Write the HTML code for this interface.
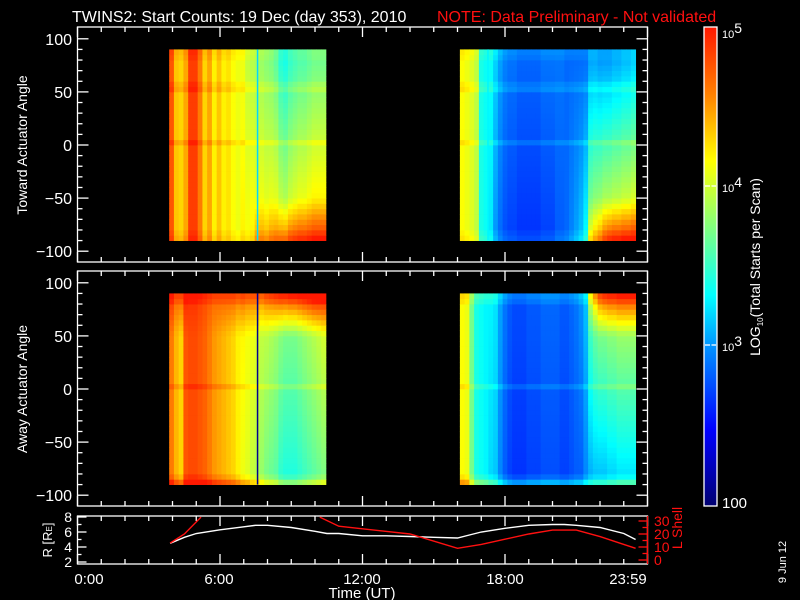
<!DOCTYPE html>
<html><head><meta charset="utf-8">
<style>
html,body{margin:0;padding:0;background:#000;}
svg{display:block;}
text{font-family:"Liberation Sans",sans-serif;}
</style></head>
<body>
<svg id="chart" width="800" height="600" viewBox="0 0 800 600" xmlns="http://www.w3.org/2000/svg">
<rect x="0" y="0" width="800" height="600" fill="#000"/>
<text x="72" y="22" font-size="16" fill="#fff">TWINS2: Start Counts: 19 Dec (day 353), 2010</text>
<text x="437" y="22" font-size="16" fill="#ff1010">NOTE: Data Preliminary - Not validated</text>
<g id="heat"></g>
<g id="axes"></g>
<text transform="translate(27,145) rotate(-90)" text-anchor="middle" font-size="14" fill="#fff">Toward Actuator Angle</text>
<text transform="translate(27,389) rotate(-90)" text-anchor="middle" font-size="14" fill="#fff">Away Actuator Angle</text>
<text transform="translate(52,540) rotate(-90)" text-anchor="middle" font-size="13" fill="#fff">R [R<tspan font-size="8">E</tspan>]</text>
<text transform="translate(682,528) rotate(-90)" text-anchor="middle" font-size="14" fill="#ff1010">L Shell</text>
<text x="362" y="598" text-anchor="middle" font-size="15" fill="#fff">Time (UT)</text>
<text transform="translate(786,562) rotate(-90)" text-anchor="middle" font-size="11" fill="#fff">9 Jun 12</text>
<text transform="translate(760,267) rotate(-90)" text-anchor="middle" font-size="14" fill="#fff">LOG<tspan font-size="8" dy="3">10</tspan><tspan dy="-3">(Total Starts per Scan)</tspan></text>
</svg>
<script>
// ---------- data ----------
const colStep = 0.2;
const block1Start = 3.86;
const block2Start = 16.1;
// top panel (Toward) – log10 counts at angle 0 per column
const topB1Base = [4.75,4.35,4.3,4.45,4.85,4.85,4.6,4.3,4.45,4.2,4.35,4.2,4.25,4.15,4.1,4.15,4.05,4.05,4.0,4.0,3.95,3.95,3.9,3.75,3.7,3.8,3.85,3.9,3.9,3.95,4.0,4.0,4.0];
const topB1Slope = [0,0,0,0,0,0,0,0,0,0,0,0,0,0,0,0.05,0.1,0.15,0.15,0.2,0.2,0.25,0.3,0.35,0.35,0.35,0.35,0.35,0.35,0.35,0.35,0.35,0.35];
const topB1Edge = [0,0,0,0,0,0,0,0,0,0,0,0,0,0,0,0,0,0,0.3,0.3,0.3,0.35,0.4,0.5,0.55,0.6,0.6,0.6,0.6,0.6,0.6,0.6,0.6];
const topB2Base = [4.15,4.1,4.05,3.95,3.4,3.35,3.3,3.1,2.95,2.85,2.8,2.8,2.75,2.75,2.75,2.75,2.75,2.8,2.8,2.8,2.85,2.85,2.85,2.9,2.95,3.0,3.1,3.45,3.5,3.5,3.55,3.55,3.6,3.6,3.65,3.65,3.7];
const topB2Slope = [0,0,0,0,0,0,-0.05,-0.1,-0.1,-0.1,-0.1,-0.1,-0.1,-0.1,-0.1,-0.1,-0.1,-0.1,-0.1,-0.1,-0.05,-0.05,0,0.05,0.1,0.15,0.25,0.45,0.5,0.55,0.6,0.6,0.6,0.6,0.6,0.6,0.6];
const topB2Edge = [0,0,0,0,0,0,0,0,0,0,0,0,0,0,0,0,0,0,0,0,0,0,0,0,0,0,0,0.3,0.4,0.5,0.6,0.7,0.7,0.7,0.7,0.7,0.7];
const topProfile = [0.1,0.05,0,0,0,0,0,0,0,0,0,0,0,0,0,0,0,0,0.12,0,0,0,0,0,0,0,0,0,0.12,0.08,0,0,0,0,0.05,0.08];
// bottom panel (Away)
const botB1Base = [4.6,4.4,4.3,4.75,4.8,4.8,4.75,4.7,4.6,4.5,4.45,4.4,4.35,4.3,4.2,4.15,4.1,4.05,4.0,3.9,3.85,3.8,3.75,3.65,3.6,3.6,3.6,3.65,3.7,3.75,3.8,3.85,3.9];
const botB1Slope = [0,0,0,0,0,0,0,0,0,0,0,0,0,0,0,0.05,0.05,0.1,0.1,0.1,0.15,0.15,0.15,0.2,0.2,0.2,0.2,0.2,0.2,0.2,0.2,0.2,0.2];
const botB1Edge = [0.3,0.3,0.4,0.2,0.1,0.1,0.1,0.1,0.15,0.2,0.25,0.3,0.35,0.4,0.45,0.5,0.5,0.5,0.55,0.6,0.7,0.8,0.9,1.0,1.05,1.1,1.1,1.1,1.1,1.1,1.1,1.05,1.0];
const botB2Base = [4.15,4.1,3.7,3.4,3.35,3.3,3.25,3.2,3.0,2.85,2.75,2.7,2.7,2.7,2.75,2.75,2.75,2.8,2.8,2.8,2.8,2.75,2.75,2.8,2.85,2.9,3.05,3.35,3.45,3.5,3.5,3.55,3.55,3.6,3.6,3.6,3.6];
const botB2Slope = [0,0,0,0,0,0,0.05,0.05,0.05,0.05,0.05,0.05,0.05,0.05,0.05,0.05,0.05,0.05,0.05,0.05,0.05,0.05,0.05,0.05,0.05,0.1,0.1,0.3,0.35,0.4,0.4,0.4,0.4,0.4,0.4,0.4,0.4];
const botB2Edge = [0,0,0,0,0,0,0,0,0,0,0,0,0,0,0,0,0,0,0,0,0,0,0,0,0,0,0,0.4,0.6,0.8,0.9,0.9,0.9,0.9,0.9,0.9,0.9];
const botProfile = [0.35,0.1,0,0,0,0,0,0,0,0,0,0,0,0,0,0,0,0,0.12,0,0,0,0,0,0,0,0,0,0,0,0,0,0,0,0.1,0.15];
// narrow spikes: [hour, log value]
const topSpikeHours = [7.55,17.25];
const topSpikeVals = [3.2,3.3];
const botSpikeHours = [7.55];
const botSpikeVals = [2.1];
// orbit lines
const rHours = [3.9,4.5,5,6,7,7.5,8,9,10,10.5,11,12,13,14,15,16,16.5,17,18,19,20,20.5,21,22,23,23.5];
const rVals = [4.5,5.3,5.8,6.3,6.7,6.9,6.9,6.6,6.1,5.8,5.8,5.5,5.5,5.4,5.3,5.2,5.6,6.0,6.5,6.9,7.0,7.0,6.9,6.6,5.8,5.0];
const l1Hours = [3.9,4.5,5.2];
const l1Vals = [13,20,33];
const l2Hours = [10.2,11,12,14,16,17,18,19,20,21,22,23,23.5];
const l2Vals = [33,26,24,20,9,12,16,20,23,23,18,12,9];
const xTickLabels = ["0:00","6:00","12:00","18:00","23:59"];
const yTickVals = [-100,-50,0,50,100];
const rTickVals = [2,4,6,8];
const lTickVals = [0,10,20,30];
const cbTickLabels = ["100","10","10","10"];
const cbTickExps = ["","3","4","5"];

// ---------- scales ----------
const NS = "http://www.w3.org/2000/svg";
const X0 = 77.5, X1 = 647.5;
const xOf = h => X0 + h * (X1 - X0) / 24;
const topY = a => 145 - a * 1.062;
const botY = a => 389 - a * 1.062;
const rY = r => 562 - (r - 2) * 7.5;
const lY = l => 560 - l * 1.3;
const cbY = lg => 504 - (lg - 2) * 159;

const stops = [[0,[0,0,112]],[0.05,[0,0,160]],[0.16,[0,0,255]],[0.33,[0,144,255]],[0.44,[0,255,255]],[0.58,[128,255,128]],[0.72,[255,255,0]],[0.86,[255,128,0]],[1,[255,24,0]]];
function color(lg){
  let f = Math.max(0, Math.min(1, (lg - 2) / 3));
  for (let i = 1; i < stops.length; i++) {
    if (f <= stops[i][0]) {
      const a = stops[i-1], b = stops[i], t = (f - a[0]) / (b[0] - a[0]);
      const c = a[1].map((v,k) => Math.round(v + (b[1][k]-v)*t));
      return `rgb(${c[0]},${c[1]},${c[2]})`;
    }
  }
  return "rgb(255,24,0)";
}
function mk(tag, attrs, parent){
  const e = document.createElementNS(NS, tag);
  for (const k in attrs) e.setAttribute(k, attrs[k]);
  parent.appendChild(e);
  return e;
}
const heat = document.getElementById('heat');
const axes = document.getElementById('axes');

function drawBlock(g, start, base, slope, edge, profile, yFn, flip){
  for (let c = 0; c < base.length; c++) {
    const x0 = xOf(start + c*colStep), x1 = xOf(start + (c+1)*colStep);
    for (let r = 0; r < 36; r++) {
      const aLo = -90 + r*5, aHi = aLo + 5, aMid = aLo + 2.5;
      const t = flip ? -aMid/90 : aMid/90;
      const e = Math.max(0, (t - 0.55) / 0.45);
      const v = base[c] + slope[c]*t + edge[c]*e + profile[r];
      const rc = mk('rect', {x:x0.toFixed(2), y:yFn(aHi).toFixed(2), width:(x1-x0+0.4).toFixed(2), height:(yFn(aLo)-yFn(aHi)+0.4).toFixed(2), fill:color(v)}, g);
      
      
    }
  }
}
function drawSpikes(g, hours, vals, yFn){
  hours.forEach((h,i) => {
    const s = mk('rect', {x:xOf(h).toFixed(2), y:yFn(90), width:1.5, height:yFn(-90)-yFn(90), fill:color(vals[i])}, g);
    
    
  });
}
const gTop = mk('g', {}, heat);


drawBlock(gTop, block1Start, topB1Base, topB1Slope, topB1Edge, topProfile, topY, true);
drawBlock(gTop, block2Start, topB2Base, topB2Slope, topB2Edge, topProfile, topY, true);
drawSpikes(gTop, topSpikeHours, topSpikeVals, topY);
const gBot = mk('g', {}, heat);


drawBlock(gBot, block1Start, botB1Base, botB1Slope, botB1Edge, botProfile, botY, false);
drawBlock(gBot, block2Start, botB2Base, botB2Slope, botB2Edge, botProfile, botY, false);
drawSpikes(gBot, botSpikeHours, botSpikeVals, botY);

// ---------- axes ----------
function line(x1,y1,x2,y2,col,parent,name){
  const l = mk('line', {x1,y1,x2,y2,stroke:col||'#fff','stroke-width':1.3}, parent||axes);
  
  
  return l;
}
function text(x,y,s,opts,name){
  const t = mk('text', Object.assign({x,y,fill:'#fff','font-size':16}, opts||{}), axes);
  t.textContent = s;
  
  
  return t;
}
function panel(top, bot, yFn, name){
  const r = mk('rect', {x:X0, y:top, width:X1-X0, height:bot-top, fill:'none', stroke:'#fff','stroke-width':1.3}, axes);
  
  
  for (let h = 0; h <= 24; h++) {
    const L = h % 6 === 0 ? 10 : 5;
    line(xOf(h), bot, xOf(h), bot-L);
    line(xOf(h), top, xOf(h), top+L);
  }
  if (yFn) {
    for (let a = -100; a <= 100; a += 10) {
      const L = a % 50 === 0 ? 11 : 5;
      line(X0, yFn(a), X0+L, yFn(a));
      line(X1, yFn(a), X1-L, yFn(a));
    }
    yTickVals.forEach(v => text(72, yFn(v)+6, v === 0 ? "0" : (v < 0 ? "\u2212" + (-v) : String(v)), {'text-anchor':'end'}, 'y-tick-label'));
  }
}
panel(27, 262, topY, 'toward-panel-frame');
panel(271, 506, botY, 'away-panel-frame');
panel(516, 564, null, 'orbit-panel-frame');
rTickVals.forEach(v => { line(X0, rY(v), X0+9, rY(v)); text(72, rY(v)+5, String(v), {'text-anchor':'end','font-size':14}, 'r-tick-label'); });
[3,5,7].forEach(v => line(X0, rY(v), X0+4, rY(v)));
line(X1, 516, X1, 564, '#ff1010', axes, 'l-shell-axis');
lTickVals.forEach(v => { line(X1, lY(v), X1-9, lY(v), '#ff1010'); text(654, lY(v)+5, String(v), {'fill':'#ff1010','font-size':14}, 'l-tick-label'); });
[5,15,25].forEach(v => line(X1, lY(v), X1-5, lY(v), '#ff1010'));
const xLabelPos = [89,219,362,505,628];
xTickLabels.forEach((s,i) => text(xLabelPos[i], 584, s, {'text-anchor':'middle','font-size':15}, 'x-tick-label'));

function poly(hours, vals, yFn, col, name){
  const pts = hours.map((h,i) => xOf(h).toFixed(1) + ',' + Math.max(516, yFn(vals[i])).toFixed(1)).join(' ');
  const p = mk('polyline', {points:pts, fill:'none', stroke:col, 'stroke-width':1.4}, axes);
  
  
}
poly(rHours, rVals, rY, '#fff', 'r-distance-line');
poly(l1Hours, l1Vals, lY, '#ff1010', 'l-shell-line-1');
poly(l2Hours, l2Vals, lY, '#ff1010', 'l-shell-line-2');

const defs = mk('defs', {}, axes);
const grad = mk('linearGradient', {id:'cbg', x1:0, y1:1, x2:0, y2:0}, defs);
stops.forEach(s => mk('stop', {offset:s[0], 'stop-color':`rgb(${s[1].join(',')})`}, grad));
const cb = mk('rect', {x:704, y:27, width:13, height:479, fill:'url(#cbg)', stroke:'#fff', 'stroke-width':1.3}, axes);


[3,4].forEach(lg => { line(705, cbY(lg), 710, cbY(lg), '#fff', axes, 'colorbar-tick'); line(711.5, cbY(lg), 716, cbY(lg), '#fff', axes, 'colorbar-tick'); });
[2,3,4,5].forEach((lg,i) => {
  const y = Math.max(38, Math.min(cbY(lg)+6, 508));
  const t = text(722, y, cbTickLabels[i], {'font-size': i === 0 ? 15 : 11}, 'colorbar-tick-label');
  if (cbTickExps[i]) {
    const sp = document.createElementNS(NS, 'tspan');
    sp.setAttribute('dy', '-5');
    sp.setAttribute('font-size', '14');
    sp.textContent = cbTickExps[i];
    t.appendChild(sp);
  }
});
</script>
</body></html>
